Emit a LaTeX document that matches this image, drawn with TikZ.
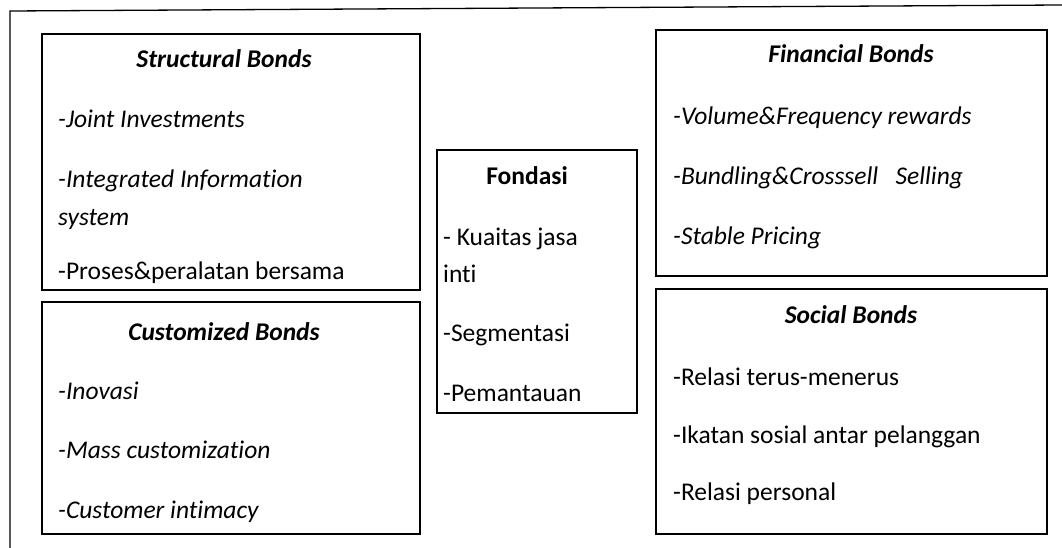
\documentclass[tikz,border=0pt]{standalone}
\usepackage{fontspec}
\setmainfont[Ligatures=NoCommon]{Carlito}
\begin{document}
\begin{tikzpicture}[x=1pt,y=-1pt,
  box/.style={draw, line width=1.3pt, inner sep=0pt},
  ttl/.style={anchor=base, inner sep=0pt, font=\fontsize{25.5}{30}\selectfont\bfseries\itshape},
  ttlu/.style={anchor=base, inner sep=0pt, font=\fontsize{25.5}{30}\selectfont\bfseries},
  itm/.style={anchor=base west, inner sep=0pt, font=\fontsize{25.5}{30}\selectfont\itshape},
  itmu/.style={anchor=base west, inner sep=0pt, font=\fontsize{25.5}{30}\selectfont}]
\useasboundingbox (0,0) rectangle (1062,548);
% outer frame
\coordinate (fbl) at (10,548);
\coordinate (ftl) at (10,11);
\coordinate (ftr) at (1062,5);
\draw[line width=1.3pt] (fbl) -- (ftl) -- (ftr);
% boxes
\node[box, minimum width=378, minimum height=256] (sb) at (231,162) {};
\node[box, minimum width=378, minimum height=232] (cb) at (231,418) {};
\node[box, minimum width=200, minimum height=263] (fd) at (537,281.5) {};
\node[box, minimum width=391, minimum height=246] (fb) at (851.5,153) {};
\node[box, minimum width=391, minimum height=245] (so) at (851.5,411.5) {};
% Structural
\node[ttl] (sbt) at (224,68) {Structural Bonds};
\node[itm] (sb1) at (58,128) {-Joint Investments};
\node[itm] (sb2) at (58,188) {-Integrated Information};
\node[itm] (sb3) at (58,225) {system};
\node[itmu] (sb4) at (58,279) {-Proses\&peralatan bersama};
% Customized
\node[ttl] (cbt) at (224,340) {Customized Bonds};
\node[itm] (cb1) at (58,399) {-Inovasi};
\node[itm] (cb2) at (58,458) {-Mass customization};
\node[itm] (cb3) at (58,518) {-Customer intimacy};
% Fondasi
\node[ttlu] (fdt) at (527,185) {Fondasi};
\node[itmu] (fd1) at (443,245) {- Kuaitas jasa};
\node[itmu] (fd2) at (443,282) {inti};
\node[itmu] (fd3) at (443,341) {-Segmentasi};
\node[itmu] (fd4) at (443,401) {-Pemantauan};
% Financial
\node[ttl] (fbt) at (851,63) {Financial Bonds};
\node[itm] (fb1) at (673,125) {-Volume\&Frequency rewards};
\node[itm] (fb2) at (673,185) {-Bundling\&Crosssell\ \ \ Selling};
\node[itm] (fb3) at (673,244) {-Stable Pricing};
% Social
\node[ttl] (sot) at (851,323) {Social Bonds};
\node[itmu] (so1) at (673,385) {-Relasi terus-menerus};
\node[itmu] (so2) at (673,443) {-Ikatan sosial antar pelanggan};
\node[itmu] (so3) at (673,500) {-Relasi personal};
\end{tikzpicture}
\end{document}
